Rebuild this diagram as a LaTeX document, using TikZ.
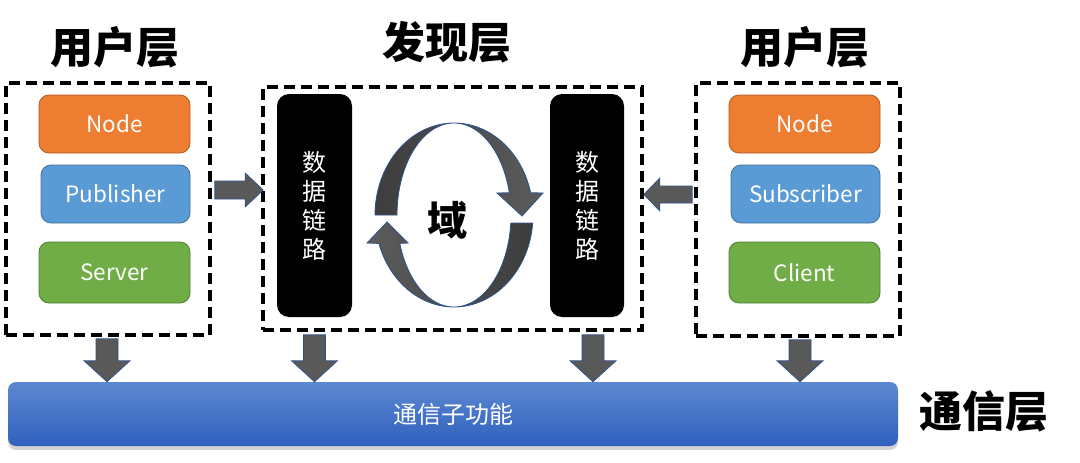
\documentclass[tikz,border=0pt]{standalone}
\usepackage{fontspec}
\setmainfont{Noto Sans CJK SC}
\usetikzlibrary{calc,shadows}
\definecolor{nodeF}{HTML}{ED7D31}\definecolor{nodeD}{HTML}{AE5A21}
\definecolor{pubF}{HTML}{5B9BD5}\definecolor{pubD}{HTML}{41719C}
\definecolor{srvF}{HTML}{70AD47}\definecolor{srvD}{HTML}{507E32}
\definecolor{arrF}{HTML}{595959}\definecolor{arrD}{HTML}{2F528F}
\definecolor{barT}{HTML}{5D88D1}\definecolor{barB}{HTML}{2F60BD}
\newcommand\blkdown[2]{%
  \filldraw[blk] ($(#1)+(-11,0)$) -- ($(#2)+(-11,-21)$) -- ($(#2)+(-23,-21)$) -- (#2)
    -- ($(#2)+(23,-21)$) -- ($(#2)+(11,-21)$) -- ($(#1)+(11,0)$) -- cycle;}
\newcommand\blkhor[5]{% start, end, head offset, shaft half, head half
  \filldraw[blk] ($(#1)+(0,-#4)$) -- ($(#2)+(#3,-#4)$) -- ($(#2)+(#3,-#5)$) -- (#2)
    -- ($(#2)+(#3,#5)$) -- ($(#2)+(#3,#4)$) -- ($(#1)+(0,#4)$) -- cycle;}
\begin{document}
\begin{tikzpicture}[x=1pt,y=-1pt,
  dbox/.style={draw=black, line width=3.6pt, dash pattern=on 11pt off 6pt, inner sep=0pt},
  cbox/.style={rounded corners=10pt, line width=0.8pt, inner sep=0pt, text=white,
    font=\fontsize{22.5}{26}\selectfont, minimum height=58pt},
  dlbox/.style={fill=black, rounded corners=12pt, inner sep=0pt, text=white, align=center,
    font=\fontsize{24}{29}\selectfont, minimum width=75pt, minimum height=223pt},
  title/.style={font=\bfseries\fontsize{43}{43}\selectfont, inner sep=0pt},
  blk/.style={fill=arrF, draw=arrD, line width=0.7pt},
  circ/.style={draw=arrD, line width=0.8pt}]
\useasboundingbox (0,0) rectangle (1080,463);
% titles
\node[title] (t1) at (115,47) {用户层};
\node[title] (t2) at (447,42) {发现层};
\node[title] (t3) at (805,47) {用户层};
\node[title] (t4) at (984,411) {通信层};
% dashed group boxes
\node[dbox, minimum width=204pt, minimum height=252pt] (lbox) at (108,209) {};
\node[dbox, minimum width=379pt, minimum height=243pt] (mbox) at (452.5,208.5) {};
\node[dbox, minimum width=204pt, minimum height=253pt] (rbox) at (798,209.5) {};
% left user layer
\node[cbox, fill=nodeF, draw=nodeD, minimum width=151pt] (ln) at (114.5,124) {Node};
\node[cbox, fill=pubF, draw=pubD, minimum width=149pt] (lp) at (115.5,194) {Publisher};
\node[cbox, fill=srvF, draw=srvD, minimum width=151pt, minimum height=61pt] (ls) at (114.5,272.5) {Server};
% right user layer
\node[cbox, fill=nodeF, draw=nodeD, minimum width=151pt] (rn) at (804.5,124) {Node};
\node[cbox, fill=pubF, draw=pubD, minimum width=149pt] (rp) at (805.5,194) {Subscriber};
\node[cbox, fill=srvF, draw=srvD, minimum width=151pt, minimum height=61pt] (rc) at (804.5,272.5) {Client};
% data links
\node[dlbox] (dl1) at (314.5,205.5) {数\\据\\链\\路};
\node[dlbox, minimum width=74pt] (dl2) at (587,205.5) {数\\据\\链\\路};
% circular arrows
\shadedraw[circ, left color=black!76, right color=black!64]
  plot[domain=180:346, samples=60] ({454+79*cos(\x)},{215+92*sin(\x)})
  -- (543,193) -- (522,216) -- (497,193)
  -- plot[domain=346:180, samples=60] ({454+57*cos(\x)},{215+92*sin(\x)}) -- cycle;
\shadedraw[circ, left color=black!64, right color=black!76]
  plot[domain=5:162, samples=60] ({454+79*cos(\x)},{215+92*sin(\x)})
  -- (367,243) -- (387,222) -- (408,243)
  -- plot[domain=162:5, samples=60] ({454+57*cos(\x)},{215+92*sin(\x)}) -- cycle;
\node[font=\bfseries\fontsize{40}{40}\selectfont, inner sep=0pt] (dom) at (447,220) {域};
% communication bar
\node[rounded corners=8pt, top color=barT, bottom color=barB, minimum width=890pt, minimum height=64pt,
  inner sep=0pt, text=white, font=\fontsize{24}{28}\selectfont,
  drop shadow={shadow xshift=0pt, shadow yshift=-4pt, opacity=0.35}] (bar) at (453,414) {通信子功能};
% horizontal arrows
\coordinate (h1s) at ($(lbox.east |- lp.center)+(3,-4)$);
\coordinate (h1e) at ($(mbox.west |- lp.center)+(2,-4)$);
\blkhor{h1s}{h1e}{-18}{9}{17}
\coordinate (h2s) at ($(rbox.west |- rp.center)+(-2,0.5)$);
\coordinate (h2e) at ($(mbox.east |- rp.center)+(0,0.5)$);
\blkhor{h2s}{h2e}{16}{8.5}{16.5}
% down arrows
\coordinate (d1s) at ($(lbox.south)+(-1,2)$);
\coordinate (d1e) at (d1s |- bar.north);
\blkdown{d1s}{d1e}
\coordinate (d2s) at ($(dl1.south |- mbox.south)+(0,3)$);
\coordinate (d2e) at (d2s |- bar.north);
\blkdown{d2s}{d2e}
\coordinate (d3s) at ($(dl2.south |- mbox.south)+(6,3)$);
\coordinate (d3e) at (d3s |- bar.north);
\blkdown{d3s}{d3e}
\coordinate (d4s) at ($(rbox.south)+(2,2)$);
\coordinate (d4e) at (d4s |- bar.north);
\blkdown{d4s}{d4e}
\end{tikzpicture}
\end{document}
